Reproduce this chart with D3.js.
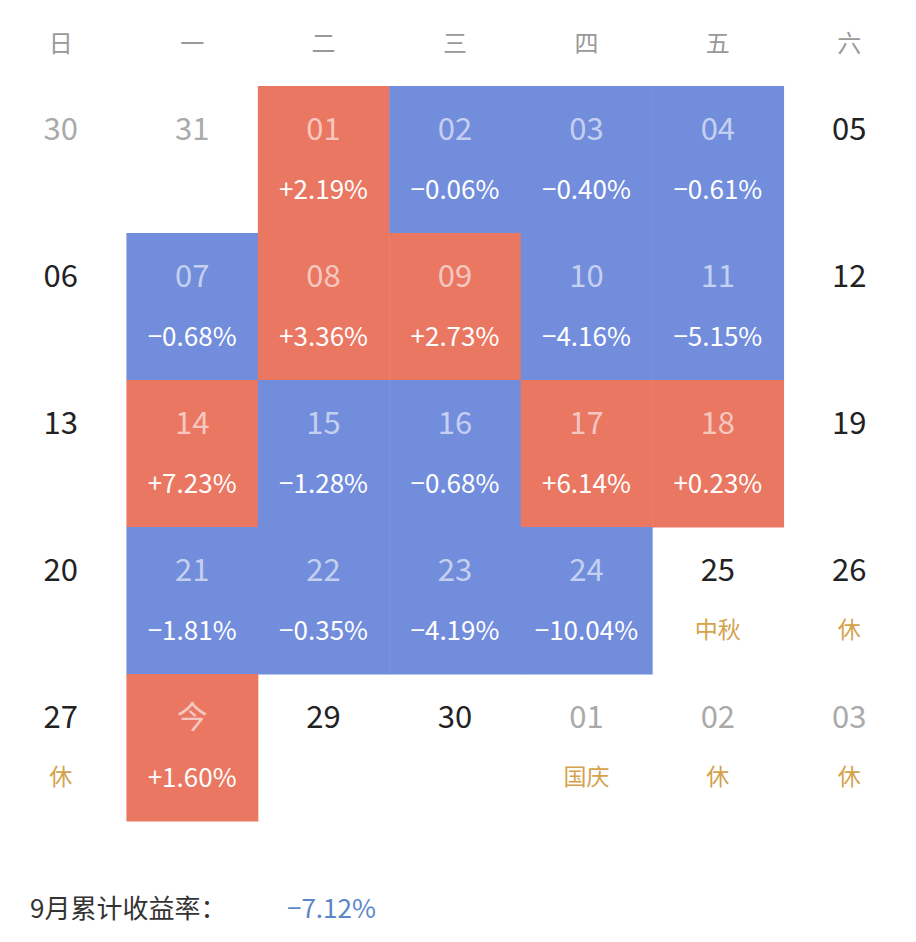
<!DOCTYPE html>
<html><head><meta charset="utf-8">
<script src="https://cdn.jsdelivr.net/npm/d3@7"></script>
<style>body{margin:0;background:#fff;}</style>
</head><body><svg id="cal"></svg>
<script>
const weekdays = ['日','一','二','三','四','五','六'];
// one entry per calendar cell, row by row
const dayLabels = ['30','31','01','02','03','04','05',
  '06','07','08','09','10','11','12',
  '13','14','15','16','17','18','19',
  '20','21','22','23','24','25','26',
  '27','今','29','30','01','02','03'];
const returns = [null,null,2.19,-0.06,-0.40,-0.61,null,
  null,-0.68,3.36,2.73,-4.16,-5.15,null,
  null,7.23,-1.28,-0.68,6.14,0.23,null,
  null,-1.81,-0.35,-4.19,-10.04,null,null,
  null,1.60,null,null,null,null,null];
const notes = ['','','','','','','',
  '','','','','','','',
  '','','','','','','',
  '','','','','','中秋','休',
  '休','','','','国庆','休','休'];
const outOfMonth = [0,1,32,33,34];
const monthTotal = -7.12;

const W = 916, H = 942;
const svg = d3.select('#cal').attr('width', W).attr('height', H);
const font = '"Noto Sans CJK SC", "Noto Sans", sans-serif';

const x = d3.scaleBand().domain(d3.range(7)).range([-5, 915]);
const y = d3.scaleBand().domain(d3.range(5)).range([86, 821]);

svg.selectAll('text.wd').data(weekdays).join('text')
  .attr('x', (d, i) => x(i) + x.bandwidth() / 2).attr('y', 52)
  .attr('text-anchor', 'middle').attr('font-family', font)
  .attr('font-size', 24).attr('fill', '#999').text(d => d);

const cells = dayLabels.map((d, i) => ({
  label: d, ret: returns[i], note: notes[i],
  col: i % 7, row: Math.floor(i / 7), out: outOfMonth.includes(i)
}));

const g = svg.selectAll('g.cell').data(cells).join('g')
  .attr('transform', d => `translate(${x(d.col)},${y(d.row)})`);

g.filter(d => d.ret !== null).append('rect')
  .attr('width', x.bandwidth() + 0.5).attr('height', y.bandwidth() + 0.5)
  .attr('fill', d => d.ret >= 0 ? '#ea7762' : '#728ddc');

g.append('text')
  .attr('x', x.bandwidth() / 2).attr('y', 54)
  .attr('text-anchor', 'middle').attr('font-family', font).attr('font-size', 31)
  .attr('fill', d => d.ret !== null ? 'rgba(255,255,255,0.6)' : (d.out ? '#aaa' : '#222'))
  .text(d => d.label);

g.filter(d => d.ret !== null).append('text')
  .attr('x', x.bandwidth() / 2).attr('y', 113)
  .attr('text-anchor', 'middle').attr('font-family', font).attr('font-size', 26)
  .attr('fill', '#fff')
  .text(d => (d.ret >= 0 ? '+' : '−') + Math.abs(d.ret).toFixed(2) + '%');

g.filter(d => d.note).append('text')
  .attr('x', x.bandwidth() / 2).attr('y', 111)
  .attr('text-anchor', 'middle').attr('font-family', font).attr('font-size', 23)
  .attr('fill', '#d4a24a').text(d => d.note);

svg.append('text').attr('x', 30).attr('y', 918)
  .attr('font-family', font).attr('font-size', 26).attr('fill', '#333')
  .text('9月累计收益率：');
svg.append('text').attr('x', 287).attr('y', 918)
  .attr('font-family', font).attr('font-size', 26).attr('fill', '#5b86c9')
  .text('−' + Math.abs(monthTotal).toFixed(2) + '%');
</script></body></html>
